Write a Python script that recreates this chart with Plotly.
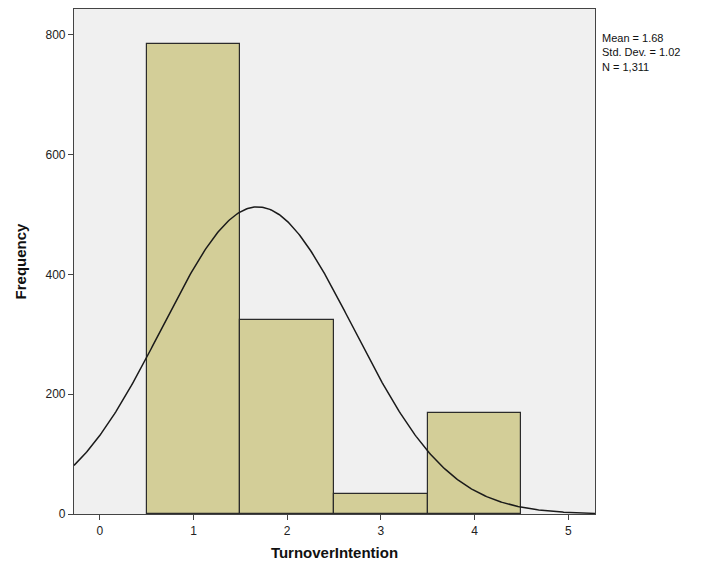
import numpy as np
import plotly.graph_objects as go

# Data
bin_centers = [1, 2, 3, 4]
frequencies = [785, 324, 33, 169]
y_ticks = [0, 200, 400, 600, 800]
x_ticks = [0, 1, 2, 3, 4, 5]
x_label = "TurnoverIntention"
y_label = "Frequency"

# Summary statistics from the data
vals = np.repeat(bin_centers, frequencies)
n = len(vals)
mean = vals.mean()
sd = vals.std(ddof=1)

x_range = [-0.275, 5.285]
y_range = [0, 843]

# Fitted normal curve (scaled to counts, bin width 1)
xc = np.linspace(x_range[0], x_range[1], 400)
yc = n * 1.0 / (sd * np.sqrt(2 * np.pi)) * np.exp(-0.5 * ((xc - mean) / sd) ** 2)

fig = go.Figure()
fig.add_trace(go.Bar(
    x=bin_centers, y=frequencies, width=1,
    marker=dict(color="#D3CE98", line=dict(color="#2b2b2b", width=1.2)),
    hoverinfo="x+y", showlegend=False,
))
fig.add_trace(go.Scatter(
    x=xc, y=yc, mode="lines",
    line=dict(color="#1a1a1a", width=1.5),
    showlegend=False, hoverinfo="skip",
))

font_family = "Liberation Sans, Arial, sans-serif"
# page body has an 8px default margin, so the figure is sized to fit the window
fig.update_layout(
    width=693, height=559,
    margin=dict(l=66, r=106, t=1, b=53, autoexpand=False),
    paper_bgcolor="white",
    plot_bgcolor="#F0F0F0",
    font=dict(family=font_family, size=12, color="#222"),
    bargap=0,
)
fig.update_xaxes(
    range=x_range, tickvals=x_ticks, ticktext=[str(t) for t in x_ticks],
    showgrid=False, zeroline=False, automargin=False,
    showline=True, mirror=True, linecolor="#444", linewidth=1.2,
    ticks="outside", ticklen=5, tickcolor="#444",
    tickfont=dict(size=12, color="#222"),
    title=dict(text="<b>%s</b>" % x_label, font=dict(size=15, color="#111"), standoff=10),
)
fig.update_yaxes(
    range=y_range, tickvals=y_ticks, ticktext=[str(t) for t in y_ticks],
    showgrid=False, zeroline=False, automargin=False,
    showline=True, mirror=True, linecolor="#444", linewidth=1.2,
    ticks="outside", ticklen=5, tickcolor="#444",
    tickfont=dict(size=12, color="#222"),
    title=dict(text="<b>%s</b>" % y_label, font=dict(size=15, color="#111"), standoff=15),
)
fig.add_annotation(
    xref="paper", yref="paper", x=1, y=1, xanchor="left", yanchor="top",
    xshift=5, yshift=-21, align="left", showarrow=False,
    text="Mean = %.2f<br>Std. Dev. = %.2f<br>N = %s" % (mean, sd, f"{n:,}"),
    font=dict(size=11, color="#111", family=font_family),
)

fig.write_html("out.html")
